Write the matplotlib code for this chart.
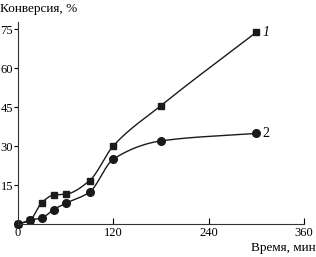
import numpy as np
import matplotlib
matplotlib.use('Agg')
import matplotlib.pyplot as plt

# время, мин
vremya = [0, 15, 30, 45, 60, 90, 120, 180, 300]
# конверсия, % (кривая 1 - квадраты, кривая 2 - круги)
konv1 = [0, 1.5, 8.3, 11.2, 11.5, 16.7, 30.1, 45.6, 73.8]
konv2 = [0, 1.5, 2.4, 5.6, 8.0, 12.3, 25.0, 32.0, 34.9]
xticks = [0, 120, 240, 360]
yticks = [15, 30, 45, 60, 75]


def pchip(x, y, xs):
    # монотонная кубическая интерполяция (Fritsch-Carlson) для гладкой линии
    x = np.asarray(x, float)
    y = np.asarray(y, float)
    h = np.diff(x)
    d = np.diff(y) / h
    m = np.zeros_like(y)
    for k in range(1, len(x) - 1):
        if d[k - 1] * d[k] > 0:
            w1 = 2 * h[k] + h[k - 1]
            w2 = h[k] + 2 * h[k - 1]
            m[k] = (w1 + w2) / (w1 / d[k - 1] + w2 / d[k])
    m[0] = d[0]
    m[-1] = d[-1]
    idx = np.clip(np.searchsorted(x, xs) - 1, 0, len(x) - 2)
    t = (xs - x[idx]) / h[idx]
    h00 = 2 * t**3 - 3 * t**2 + 1
    h10 = t**3 - 2 * t**2 + t
    h01 = -2 * t**3 + 3 * t**2
    h11 = t**3 - t**2
    return h00 * y[idx] + h10 * h[idx] * m[idx] + h01 * y[idx + 1] + h11 * h[idx] * m[idx + 1]


plt.rcParams['font.family'] = ['Liberation Serif', 'DejaVu Serif']

fig = plt.figure(figsize=(3.16, 2.57), dpi=100)
ax = fig.add_axes([0.057, 0.128, 0.905, 0.786])

xs = np.linspace(0, 300, 400)
ax.plot(xs, pchip(vremya, konv1, xs), color='#1a1a1a', lw=1.0)
ax.plot(xs, pchip(vremya, konv2, xs), color='#1a1a1a', lw=1.0)
ax.plot(vremya, konv1, 's', color='#1a1a1a', ms=5, clip_on=False)
ax.plot(vremya, konv2, 'o', color='#1a1a1a', ms=5.5, clip_on=False)

ax.text(308, konv1[-1], '1', fontsize=10, style='italic', va='center', ha='left')
ax.text(308, konv2[-1], '2', fontsize=10, va='center', ha='left')

ax.set_xlim(0, 360)
ax.set_ylim(0, 77.7)
ax.set_xticks(xticks)
ax.set_yticks(yticks)
ax.tick_params(axis='x', direction='in', length=4, labelsize=9, pad=2, width=0.8)
ax.tick_params(axis='y', direction='out', length=3, labelsize=9, pad=0.5, width=0.8)
for s in ['top', 'right']:
    ax.spines[s].set_visible(False)
for s in ['left', 'bottom']:
    ax.spines[s].set_linewidth(0.8)
    ax.spines[s].set_color('#333333')

fig.text(0.0, 0.965, 'Конверсия, %', fontsize=9.5, ha='left', va='center')
fig.text(0.998, 0.035, 'Время, мин', fontsize=9.5, ha='right', va='center')

fig.savefig('out.png', dpi=100)
